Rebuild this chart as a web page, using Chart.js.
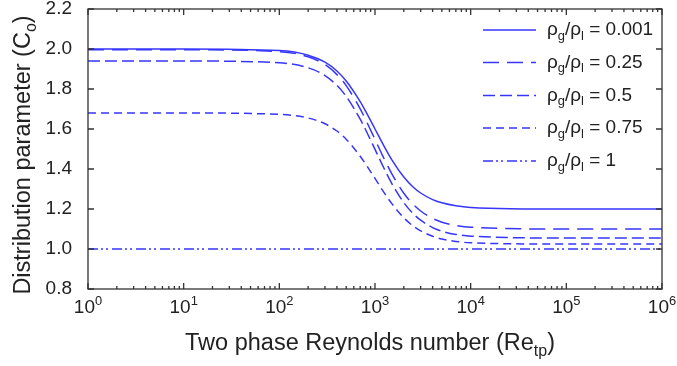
<!DOCTYPE html>
<html>
<head>
<meta charset="utf-8">
<script src="https://cdn.jsdelivr.net/npm/chart.js@4"></script>
<style>
  html, body { margin: 0; padding: 0; background: #fff; }
  #chart { display: block; }
</style>
</head>
<body>
<canvas id="chart" width="677" height="366"></canvas>
<script>
// Re_tp sample points and the distribution parameter
const reynolds = [1, 10, 100, 200, 300, 400, 500, 700, 800, 1000, 1200, 1500, 2000, 2500, 3000, 4000, 5000, 7000, 10000, 100000, 1000000];

const co_0001 = [2.0, 2.0, 1.992, 1.969, 1.934, 1.890, 1.84, 1.737, 1.688, 1.6, 1.528, 1.446, 1.36, 1.310, 1.28, 1.247, 1.231, 1.216, 1.208, 1.2, 1.2];
const co_025 = [1.996, 1.996, 1.987, 1.961, 1.922, 1.872, 1.817, 1.701, 1.646, 1.548, 1.467, 1.376, 1.279, 1.224, 1.190, 1.153, 1.134, 1.118, 1.109, 1.1, 1.1];
const co_05 = [1.94, 1.94, 1.931, 1.906, 1.867, 1.818, 1.763, 1.649, 1.595, 1.498, 1.418, 1.327, 1.232, 1.177, 1.144, 1.107, 1.089, 1.073, 1.064, 1.055, 1.055];
const co_075 = [1.68, 1.68, 1.673, 1.655, 1.626, 1.590, 1.549, 1.464, 1.424, 1.353, 1.293, 1.227, 1.156, 1.115, 1.091, 1.064, 1.050, 1.038, 1.031, 1.025, 1.025];
const co_1 = [1.0, 1.0, 1.0, 1.0, 1.0, 1.0, 1.0, 1.0, 1.0, 1.0, 1.0, 1.0, 1.0, 1.0, 1.0, 1.0, 1.0, 1.0, 1.0, 1.0, 1.0];

const ratioLabels = ["0.001", "0.25", "0.5", "0.75", "1"];
const yTicks = [0.8, 1.0, 1.2, 1.4, 1.6, 1.8, 2.0, 2.2];
const xDecades = [1, 10, 100, 1000, 10000, 100000, 1000000];

const blue = "#3636ff";
const axisColor = "#333";
const textColor = "#222";
const fontFamily = "'Liberation Sans', Arial, sans-serif";

const seriesList = [co_0001, co_025, co_05, co_075, co_1];
const dashes = [[], [16, 8], [12, 5], [8, 5], [10, 3, 2, 3, 2, 4]];

const datasets = seriesList.map((series, i) => ({
    label: ratioLabels[i],
    data: reynolds.map((re, j) => ({ x: re, y: series[j] })),
    borderColor: blue,
    borderWidth: 1.5,
    borderDash: dashes[i],
    pointRadius: 0,
    fill: false,
    cubicInterpolationMode: "monotone"
}));

// draw text made of normal, subscript (1) and superscript (2) pieces
function richWidth(ctx, parts, size){
    let w = 0;
    parts.forEach(p => {
        ctx.font = (p[1] ? size * 0.68 : size) + "px " + fontFamily;
        w += ctx.measureText(p[0]).width;
    });
    return w;
}

function drawRich(ctx, parts, x, y, size){
    parts.forEach(p => {
        ctx.font = (p[1] ? size * 0.68 : size) + "px " + fontFamily;
        let dy = 0;
        if(p[1] === 1) dy = size * 0.32;
        if(p[1] === 2) dy = -size * 0.36;
        ctx.fillText(p[0], x, y + dy);
        x += ctx.measureText(p[0]).width;
    });
}

const decorPlugin = {
    id: "decor",
    afterDatasetsDraw(chart){
        const ctx = chart.ctx;
        const area = chart.chartArea;
        const xs = chart.scales.x;
        const ys = chart.scales.y;

        ctx.save();
        ctx.strokeStyle = axisColor;
        ctx.lineWidth = 1.3;
        ctx.setLineDash([]);
        ctx.strokeRect(area.left, area.top, area.right - area.left, area.bottom - area.top);

        ctx.beginPath();
        // y major ticks on both sides, pointing inward
        yTicks.forEach(v => {
            const py = ys.getPixelForValue(v);
            ctx.moveTo(area.left, py);
            ctx.lineTo(area.left + 6, py);
            ctx.moveTo(area.right, py);
            ctx.lineTo(area.right - 6, py);
        });
        // x ticks, major at decades and minor at 2..9
        xDecades.forEach((d, i) => {
            const px = xs.getPixelForValue(d);
            ctx.moveTo(px, area.bottom);
            ctx.lineTo(px, area.bottom - 6);
            ctx.moveTo(px, area.top);
            ctx.lineTo(px, area.top + 6);
            if(i < xDecades.length - 1){
                for(let k = 2; k <= 9; k++){
                    const mx = xs.getPixelForValue(d * k);
                    ctx.moveTo(mx, area.bottom);
                    ctx.lineTo(mx, area.bottom - 3);
                    ctx.moveTo(mx, area.top);
                    ctx.lineTo(mx, area.top + 3);
                }
            }
        });
        ctx.stroke();
        ctx.restore();
    },
    afterDraw(chart){
        const ctx = chart.ctx;
        const area = chart.chartArea;
        const xs = chart.scales.x;
        ctx.save();
        ctx.fillStyle = textColor;
        ctx.textBaseline = "middle";
        ctx.textAlign = "left";

        // x decade labels with real superscripts
        xDecades.forEach(d => {
            const parts = [["10", 0], [String(Math.round(Math.log10(d))), 2]];
            const w = richWidth(ctx, parts, 19);
            drawRich(ctx, parts, xs.getPixelForValue(d) - w / 2, area.bottom + 19, 19);
        });

        // x title
        const xParts = [["Two phase Reynolds number (Re", 0], ["tp", 1], [")", 0]];
        const xw = richWidth(ctx, xParts, 23.5);
        drawRich(ctx, xParts, 370 - xw / 2, 344, 23.5);

        // y title
        const yParts = [["Distribution parameter (C", 0], ["o", 1], [")", 0]];
        const yw = richWidth(ctx, yParts, 23.5);
        ctx.save();
        ctx.translate(24, 155);
        ctx.rotate(-Math.PI / 2);
        drawRich(ctx, yParts, -yw / 2, 0, 23.5);
        ctx.restore();

        // legend
        const rowY = [30, 62.5, 95.5, 128, 161];
        ratioLabels.forEach((label, i) => {
            const y = rowY[i];
            ctx.save();
            ctx.strokeStyle = blue;
            ctx.lineWidth = 1.5;
            ctx.setLineDash(dashes[i]);
            ctx.beginPath();
            ctx.moveTo(483, y);
            ctx.lineTo(536, y);
            ctx.stroke();
            ctx.restore();
            drawRich(ctx, [["\u03c1", 0], ["g", 1], ["/\u03c1", 0], ["l", 1], [" = " + label, 0]], 547, y, 19);
        });
        ctx.restore();
    }
};

new Chart(document.getElementById("chart"), {
    type: "line",
    data: { datasets: datasets },
    options: {
        responsive: false,
        animation: false,
        layout: { padding: { top: 9, right: 15, left: 0, bottom: 0 } },
        plugins: {
            legend: { display: false },
            tooltip: { enabled: false }
        },
        scales: {
            x: {
                type: "logarithmic",
                min: 1,
                max: 1000000,
                grid: { display: false },
                border: { display: false },
                ticks: { display: false },
                afterFit: s => {
                    s.height = 77;
                    s.paddingLeft = 0;
                    s.paddingRight = 0;
                }
            },
            y: {
                min: 0.8,
                max: 2.2,
                grid: { display: false },
                border: { display: false },
                ticks: {
                    stepSize: 0.2,
                    padding: 8,
                    color: textColor,
                    font: { size: 19, family: fontFamily },
                    callback: v => Number(v).toFixed(1)
                },
                afterFit: s => {
                    s.width = 88;
                    s.paddingTop = 0;
                    s.paddingBottom = 0;
                }
            }
        }
    },
    plugins: [decorPlugin]
});
</script>
</body>
</html>
